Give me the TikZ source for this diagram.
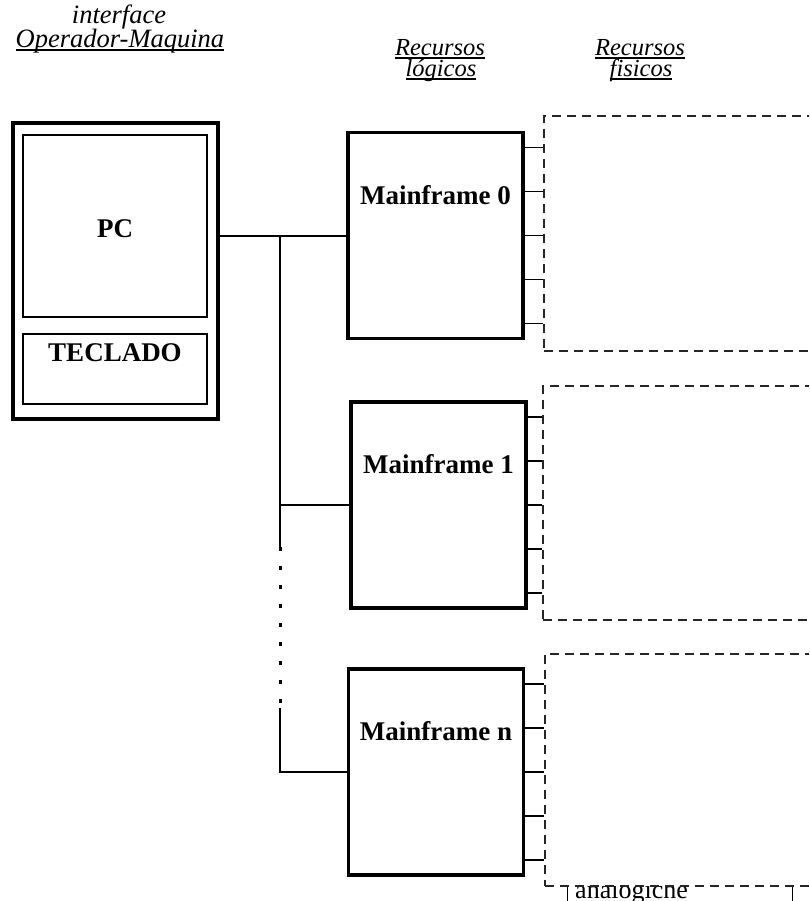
\documentclass[tikz,border=0pt]{standalone}
\usepackage{fontspec}
\setmainfont{Liberation Serif}
\usetikzlibrary{calc}
\newcommand{\wordul}[1]{\setbox0\hbox{#1}\rlap{\rule[-2.6pt]{\wd0}{1.2pt}}\box0}

\begin{document}
\begin{tikzpicture}[
  x=1pt, y=-1pt,
  frame/.style={draw, line width=3.6pt, inner sep=0pt},
  panel/.style={draw, line width=1.3pt, inner sep=0pt, minimum width=184pt},
  mainframe/.style={draw, line width=3.6pt, inner sep=0pt, minimum width=175pt, minimum height=206pt},
  resbox/.style={draw=black!85, fill=white, line width=1.3pt, dash pattern=on 9pt off 6pt, inner sep=0pt, minimum width=296pt},
  bus/.style={line width=2pt},
  dotline/.style={line width=3pt, dash pattern=on 4pt off 15pt},
  tap/.style={line width=1.3pt},
  boxlbl/.style={font=\fontsize{27}{30}\selectfont\bfseries, inner sep=0pt},
  head/.style={font=\fontsize{26.5}{28}\selectfont\itshape, inner sep=0pt, anchor=base},
  colhead/.style={font=\fontsize{24.5}{26}\selectfont\itshape, inner sep=0pt, anchor=base},
]
\useasboundingbox (0,0) rectangle (809,901);
\clip (0,0) rectangle (809,901);

% column headings
\node[head] (ifc) at (119,24) {interface};
\node[head] (opm) at (120,48) {\wordul{Operador-Maquina}};
\node[colhead] (rl1) at (440,56) {\wordul{Recursos}};
\node[colhead] (rl2) at (441,77) {\wordul{lógicos}};
\node[colhead] (rf1) at (640,56) {\wordul{Recursos}};
\node[colhead] (rf2) at (641,77) {\wordul{fisicos}};

% operator station
\node[frame, minimum width=205pt, minimum height=296pt] (pc) at (115.5,271) {};
\node[panel, minimum height=182pt] (screen) at (115,226) {};
\node[boxlbl] (pclbl) at (115,229) {PC};
\node[panel, minimum height=70pt] (kbd) at (115,369) {};
\node[boxlbl] (kbdlbl) at (115,353) {TECLADO};

% box half hidden under the last resource frame
\node[draw, line width=0.8pt, minimum width=225pt, minimum height=56pt, inner sep=0pt] (analog) at (679.5,912) {};
\node[font=\fontsize{26}{28}\selectfont, inner sep=0pt, anchor=base west] (analogtxt) at (575,898) {analogiche};

% mainframes and their physical resources
\foreach \n/\mx/\my/\rx/\ry/\rh in {0/435.5/235.5/692/233.5/235, 1/438.5/505/691/503/234, n/436/772/693/770/232} {
  \node[resbox, minimum height=\rh pt] (res\n) at (\rx,\ry) {};
  \node[mainframe] (mf\n) at (\mx,\my) {};
  \node[boxlbl] (mf\n lbl) at ([yshift=-64pt]mf\n.north) {Mainframe \n};
  \foreach \dy in {-88,-44,0,44,88} {
    \coordinate (tp) at ([yshift=\dy pt]mf\n.east);
    \draw[tap] (tp) -- (tp -| res\n.west);
  }
}

% bus
\draw[bus] (pc.east |- mf0.west) -- coordinate[pos=0.48] (j0) (mf0.west);
\coordinate (j1) at (j0 |- mf1.west);
\coordinate (jn) at (j0 |- mfn.west);
\coordinate (gap1) at ([yshift=-42pt]j1);
\coordinate (gap2) at ([yshift=64pt]jn);
\draw[bus] (j0) -- (gap1);
\draw[dotline] (gap1) -- (gap2);
\draw[bus] (gap2) -- (jn) -- (mfn.west);
\draw[bus] (j1) -- (mf1.west);

\end{tikzpicture}
\end{document}
